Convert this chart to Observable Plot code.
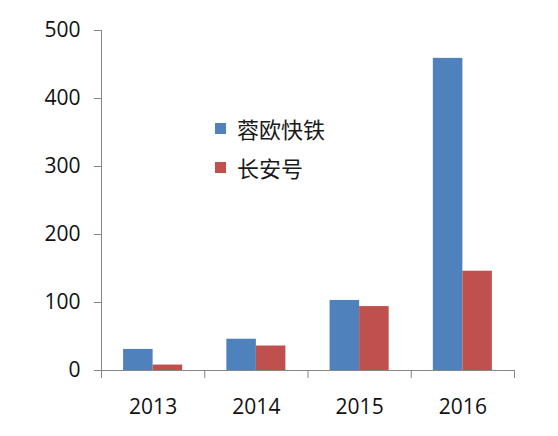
<!DOCTYPE html>
<html>
<head>
<meta charset="utf-8">
<script src="https://cdn.jsdelivr.net/npm/d3@7"></script>
<script src="https://cdn.jsdelivr.net/npm/@observablehq/plot@0.6"></script>
<style>
  body { margin: 0; background: #fff; }
  #chart { position: relative; width: 558px; height: 436px; }
  .legend { position: absolute; left: 215px; top: 109px; font-family: "Noto Sans CJK SC", sans-serif; font-size: 22px; color: #1a1a1a; line-height: 39px; }
  .legend div { display: flex; align-items: center; height: 39px; }
  .legend span.sw { width: 11px; height: 11px; margin-right: 11px; display: inline-block; }
</style>
</head>
<body>
<div id="chart"></div>
<script>
const years = [2013, 2014, 2015, 2016];
const series = ["蓉欧快铁", "长安号"];
const rongou = [31, 46, 103, 459];
const changan = [8, 36, 94, 146];
const yTicks = [0, 100, 200, 300, 400, 500];
const colors = ["#4F81BD", "#C0504D"];

const barW = 0.286;
const rows = years.flatMap((yr, i) => [
  {year: yr, name: series[0], value: rongou[i], k: -1},
  {year: yr, name: series[1], value: changan[i], k: 0}
]);
const bounds = [...years.map(y => y - 0.5), years[years.length - 1] + 0.5];

const chart = Plot.plot({
  width: 558,
  height: 436,
  marginLeft: 101,
  marginRight: 44,
  marginTop: 30,
  marginBottom: 66,
  style: {fontFamily: "'Open Sans', sans-serif", fontSize: "21px", color: "#111"},
  x: {domain: [bounds[0], bounds[bounds.length - 1]], axis: null},
  y: {domain: [0, 500], axis: null},
  color: {domain: series, range: colors},
  marks: [
    Plot.rectY(rows, {
      x1: d => d.year + d.k * barW,
      x2: d => d.year + (d.k + 1) * barW,
      y: "value",
      fill: "name"
    }),
    Plot.ruleY([0], {stroke: "#868686"}),
    Plot.ruleX([bounds[0]], {stroke: "#868686"}),
    Plot.axisY(yTicks, {label: null, tickSize: 7, tickPadding: 14, stroke: "#868686", fill: "#111", fontSize: 21}),
    Plot.axisX(bounds, {label: null, tickSize: 8, stroke: "#868686", tickFormat: () => ""}),
    Plot.axisX(years, {label: null, tickSize: 0, tickPadding: 29, tickFormat: d => String(d), fill: "#111", fontSize: 21})
  ]
});

const box = document.querySelector("#chart");
box.append(chart);
const legend = document.createElement("div");
legend.className = "legend";
series.forEach((s, i) => {
  const row = document.createElement("div");
  row.innerHTML = `<span class="sw" style="background:${colors[i]}"></span>${s}`;
  legend.append(row);
});
box.append(legend);
</script>
</body>
</html>
